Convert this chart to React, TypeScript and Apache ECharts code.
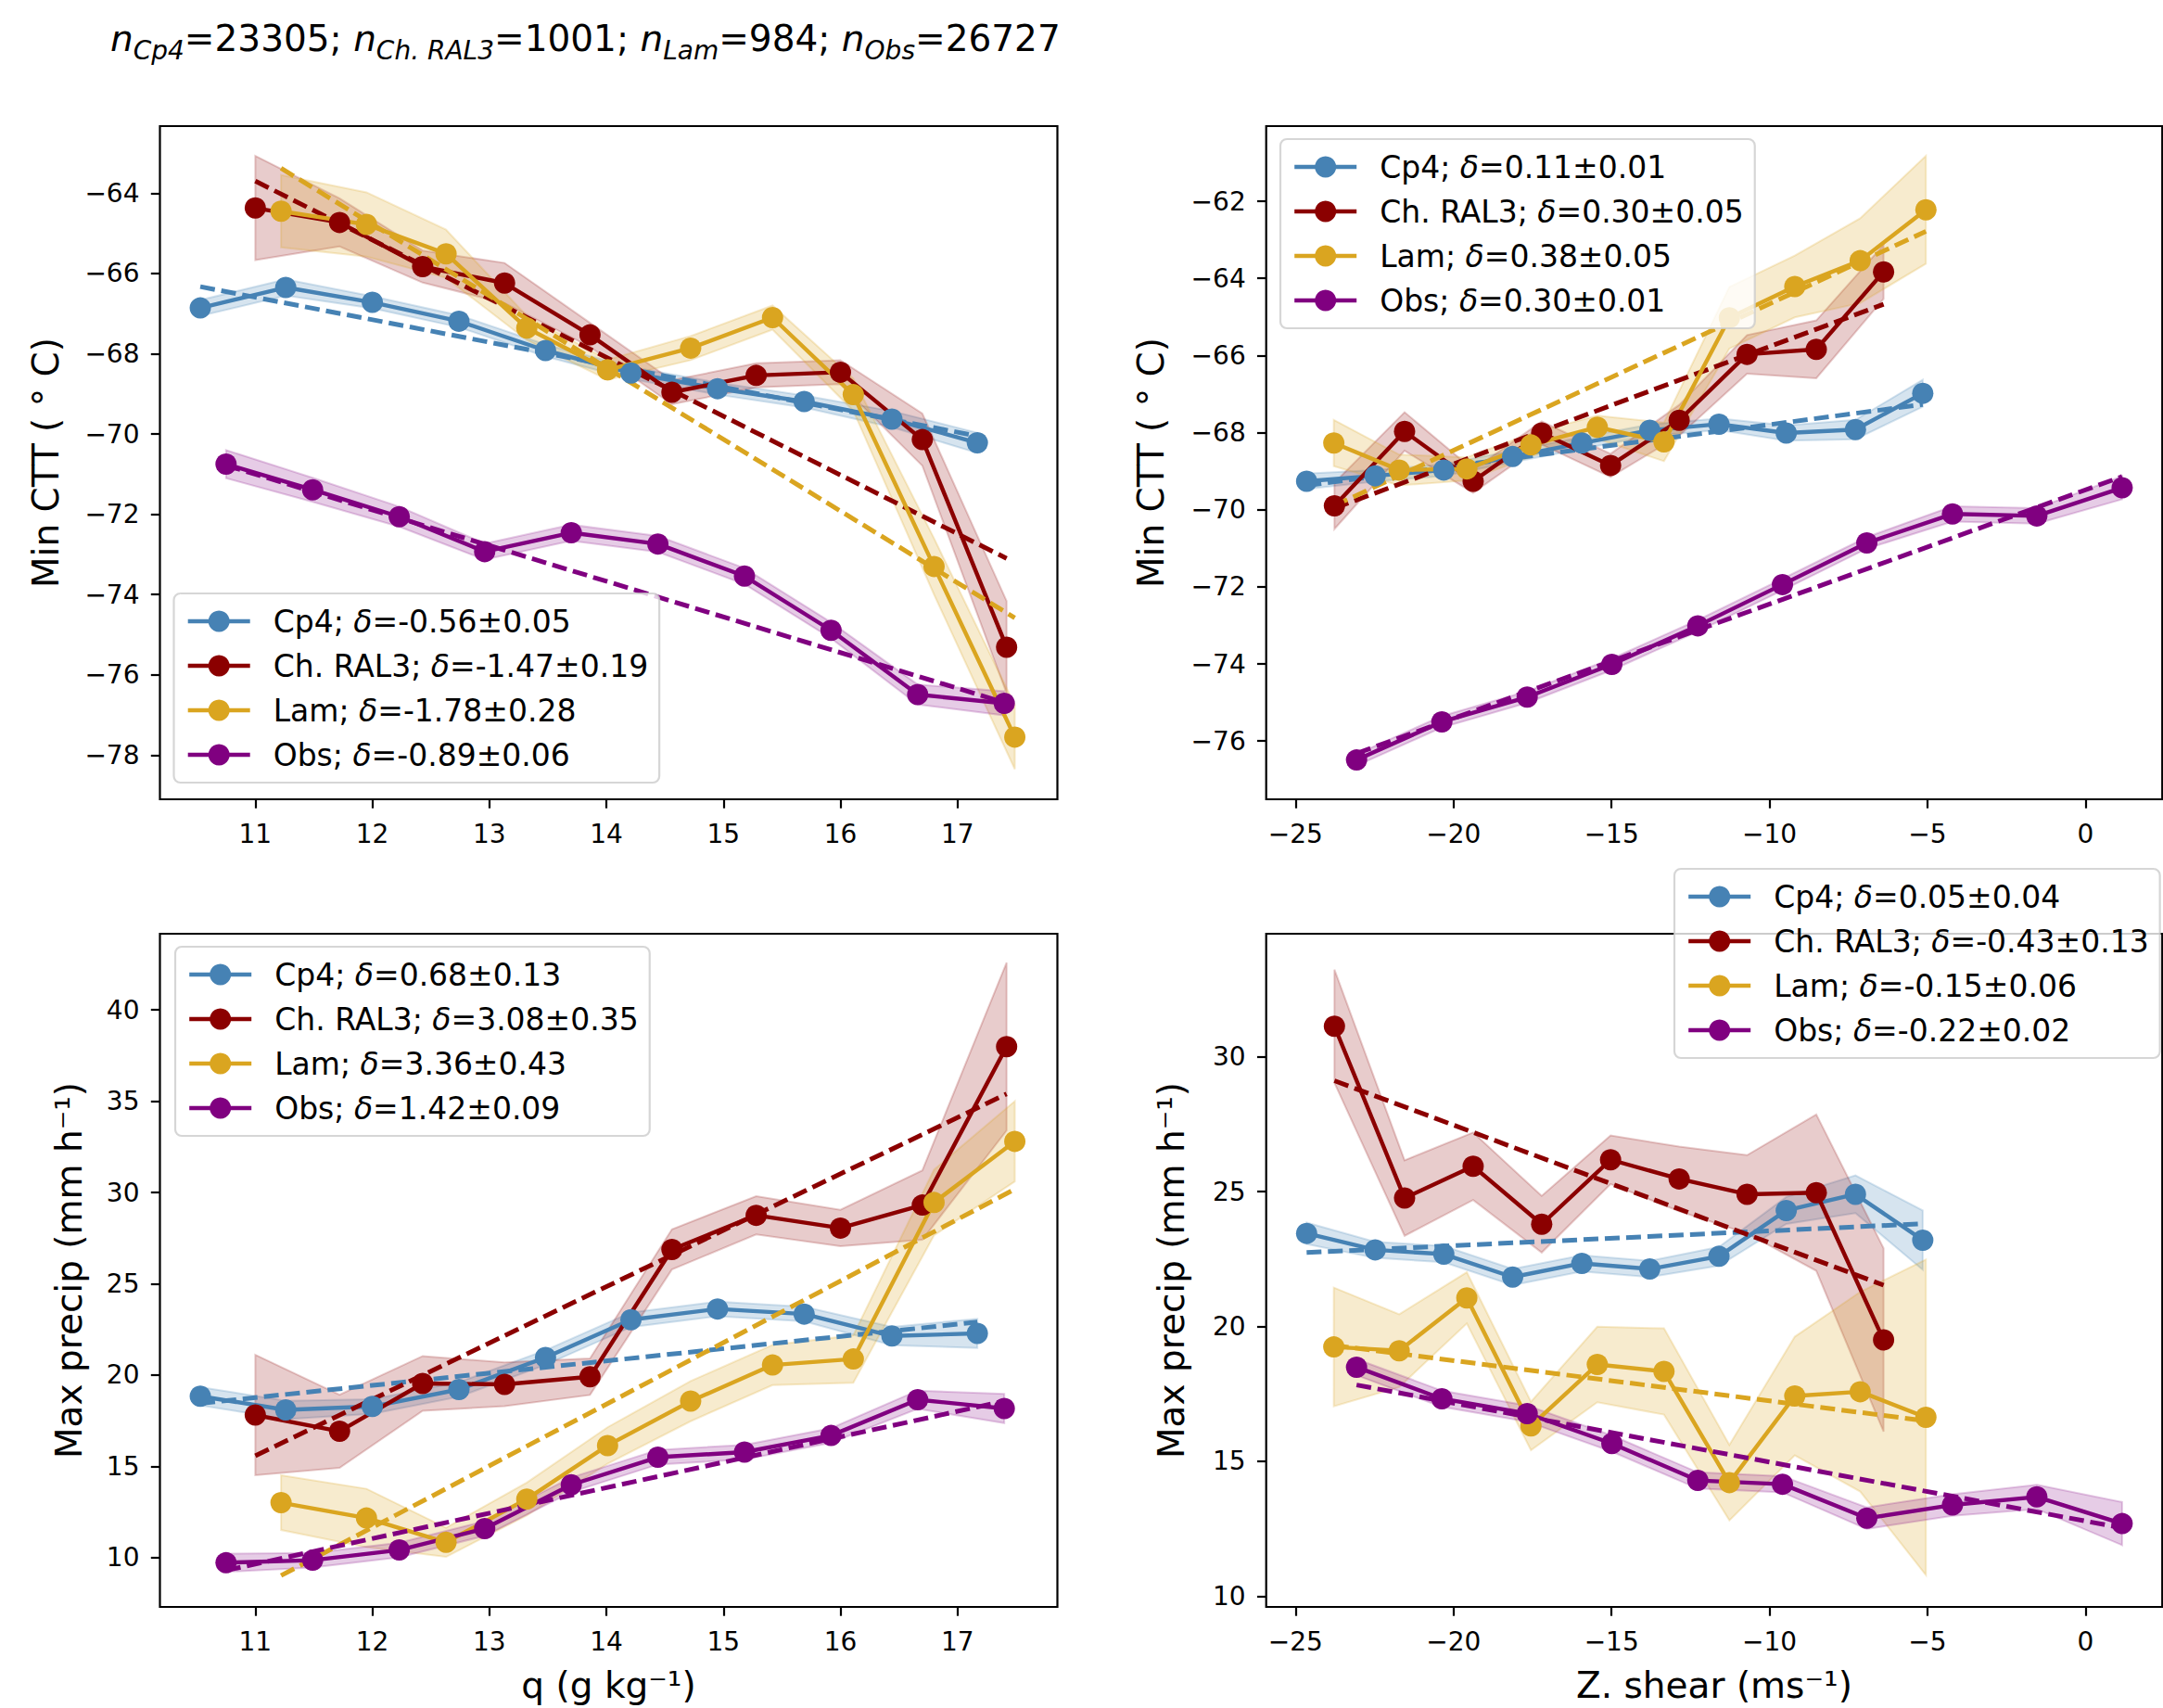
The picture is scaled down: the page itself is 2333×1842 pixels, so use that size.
import React, { useEffect, useRef } from 'react';
import * as echarts from 'echarts';

// ---------------- DATA ----------------
const models = ['Cp4', 'Ch. RAL3', 'Lam', 'Obs'];

// bin centres, humidity q (g/kg)
const qCp4 = [10.53, 11.26, 12.0, 12.74, 13.48, 14.21, 14.95, 15.69, 16.44, 17.17];
const qRal = [11.0, 11.72, 12.43, 13.13, 13.86, 14.56, 15.28, 16.0, 16.7, 17.42];
const qLam = [11.22, 11.95, 12.63, 13.32, 14.01, 14.72, 15.42, 16.11, 16.8, 17.49];
const qObs = [10.75, 11.49, 12.23, 12.96, 13.7, 14.44, 15.18, 15.92, 16.66, 17.4];

// bin centres, zonal shear (m/s)
const sCp4 = [-24.65, -22.48, -20.31, -18.13, -15.94, -13.79, -11.6, -9.47, -7.28, -5.15];
const sRal = [-23.77, -21.55, -19.38, -17.21, -15.03, -12.86, -10.71, -8.52, -6.39];
const sLam = [-23.79, -21.72, -19.58, -17.55, -15.45, -13.34, -11.27, -9.2, -7.13, -5.05];
const sObs = [-23.07, -20.37, -17.67, -14.99, -12.27, -9.59, -6.92, -4.21, -1.54, 1.16];

// Min CTT vs q
const cttQCp4 = [-66.86, -66.35, -66.72, -67.19, -67.92, -68.48, -68.87, -69.19, -69.63, -70.22];
const cttQRal = [-64.37, -64.73, -65.83, -66.24, -67.53, -68.96, -68.54, -68.46, -70.14, -75.31];
const cttQLam = [-64.45, -64.78, -65.51, -67.36, -68.4, -67.86, -67.1, -69.02, -73.3, -77.55];
const cttQObs = [-70.75, -71.39, -72.06, -72.93, -72.46, -72.74, -73.54, -74.89, -76.49, -76.71];
const cttQCp4Err = [0.2, 0.2, 0.15, 0.15, 0.15, 0.15, 0.15, 0.15, 0.2, 0.25];
const cttQRalErr = [1.3, 0.6, 0.4, 0.5, 0.3, 0.3, 0.3, 0.3, 0.65, 1.15];
const cttQLamErr = [0.9, 0.8, 0.6, 0.3, 0.25, 0.3, 0.3, 0.4, 0.7, 0.8];
const cttQObsErr = [0.35, 0.3, 0.25, 0.2, 0.2, 0.2, 0.2, 0.2, 0.25, 0.3];
const cttQCp4Trend = [-66.33, -70.05];
const cttQRalTrend = [-63.7, -73.1];
const cttQLamTrend = [-63.38, -74.58];
const cttQObsTrend = [-70.78, -76.69];

// Min CTT vs shear
const cttSCp4 = [-69.26, -69.12, -68.97, -68.62, -68.27, -67.94, -67.78, -68.01, -67.92, -66.98];
const cttSRal = [-69.9, -67.97, -69.26, -68.01, -68.85, -67.68, -65.97, -65.84, -63.83];
const cttSLam = [-68.27, -68.97, -68.94, -68.32, -67.86, -68.24, -65.02, -64.21, -63.54, -62.22];
const cttSObs = [-76.49, -75.5, -74.86, -74.01, -73.01, -71.94, -70.86, -70.11, -70.16, -69.43];
const cttSCp4Err = [0.2, 0.15, 0.15, 0.15, 0.15, 0.15, 0.15, 0.2, 0.25, 0.35];
const cttSRalErr = [0.6, 0.5, 0.3, 0.3, 0.3, 0.4, 0.5, 0.75, 0.7];
const cttSLamErr = [0.6, 0.4, 0.3, 0.3, 0.3, 0.5, 0.8, 0.8, 1.1, 1.4];
const cttSObsErr = [0.15, 0.15, 0.15, 0.15, 0.15, 0.15, 0.15, 0.2, 0.2, 0.3];
const cttSCp4Trend = [-69.37, -67.27];
const cttSRalTrend = [-69.96, -64.67];
const cttSLamTrend = [-69.9, -62.78];
const cttSObsTrend = [-76.32, -69.14];

// Max precip vs q
const prQCp4 = [18.84, 18.09, 18.28, 19.21, 20.96, 23.03, 23.62, 23.34, 22.14, 22.28];
const prQRal = [17.81, 16.92, 19.54, 19.49, 19.91, 26.88, 28.75, 28.05, 29.31, 37.99];
const prQLam = [13.01, 12.17, 10.84, 13.21, 16.14, 18.57, 20.55, 20.88, 29.45, 32.8];
const prQObs = [9.72, 9.86, 10.42, 11.59, 13.99, 15.5, 15.78, 16.69, 18.65, 18.17];
const prQCp4Err = [0.5, 0.5, 0.4, 0.4, 0.4, 0.4, 0.4, 0.4, 0.5, 0.8];
const prQRalErr = [3.3, 2.0, 1.5, 1.2, 1.0, 1.1, 1.05, 1.0, 1.9, 4.6];
const prQLamErr = [1.5, 1.6, 0.8, 0.9, 1.0, 1.1, 1.1, 1.3, 1.8, 2.2];
const prQObsErr = [0.5, 0.4, 0.4, 0.4, 0.4, 0.4, 0.4, 0.4, 0.5, 0.8];
const prQCp4Trend = [18.45, 22.9];
const prQRalTrend = [15.58, 35.4];
const prQLamTrend = [9.02, 30.18];
const prQObsTrend = [9.3, 18.57];

// Max precip vs shear
const prSCp4 = [23.45, 22.84, 22.68, 21.83, 22.34, 22.13, 22.6, 24.3, 24.9, 23.2];
const prSRal = [31.13, 24.76, 25.94, 23.79, 26.18, 25.47, 24.9, 24.96, 19.5];
const prSLam = [19.24, 19.1, 21.06, 16.31, 18.59, 18.33, 14.21, 17.42, 17.58, 16.63];
const prSObs = [18.49, 17.32, 16.77, 15.66, 14.29, 14.15, 12.89, 13.38, 13.68, 12.69];
const prSCp4Err = [0.4, 0.3, 0.3, 0.3, 0.3, 0.3, 0.35, 0.5, 0.7, 1.1];
const prSRalErr = [2.1, 1.4, 1.25, 1.05, 0.9, 1.2, 1.45, 2.9, 3.4];
const prSLamErr = [2.2, 1.35, 0.95, 0.9, 1.4, 1.6, 1.4, 2.2, 3.7, 5.85];
const prSObsErr = [0.3, 0.3, 0.3, 0.3, 0.3, 0.3, 0.4, 0.4, 0.45, 0.8];
const prSCp4Trend = [22.74, 23.81];
const prSRalTrend = [29.11, 21.53];
const prSLamTrend = [19.3, 16.5];
const prSObsTrend = [17.83, 12.53];

// legend labels (slopes)
const legendCttQ = ['Cp4; δ=-0.56±0.05', 'Ch. RAL3; δ=-1.47±0.19', 'Lam; δ=-1.78±0.28', 'Obs; δ=-0.89±0.06'];
const legendCttS = ['Cp4; δ=0.11±0.01', 'Ch. RAL3; δ=0.30±0.05', 'Lam; δ=0.38±0.05', 'Obs; δ=0.30±0.01'];
const legendPrQ = ['Cp4; δ=0.68±0.13', 'Ch. RAL3; δ=3.08±0.35', 'Lam; δ=3.36±0.43', 'Obs; δ=1.42±0.09'];
const legendPrS = ['Cp4; δ=0.05±0.04', 'Ch. RAL3; δ=-0.43±0.13', 'Lam; δ=-0.15±0.06', 'Obs; δ=-0.22±0.02'];

// tick labels
const qTicks = [11, 12, 13, 14, 15, 16, 17];
const shearTicks = [-25, -20, -15, -10, -5, 0];
const cttQTicks = [-78, -76, -74, -72, -70, -68, -66, -64];
const cttSTicks = [-76, -74, -72, -70, -68, -66, -64, -62];
const prQTicks = [10, 15, 20, 25, 30, 35, 40];
const prSTicks = [10, 15, 20, 25, 30];

const countsLabel = ['Cp4', '23305', 'Ch. RAL3', '1001', 'Lam', '984', 'Obs', '26727'];

// ---------------- STYLE ----------------
const FONT = 'DejaVu Sans';
const colors = ['#4682B4', '#8B0000', '#DAA520', '#800080'];
const bandFill = ['rgba(70,130,180,0.22)', 'rgba(139,0,0,0.2)', 'rgba(218,165,32,0.22)', 'rgba(128,0,128,0.2)'];
const LW = 4.4;
const MS = 23;

const panels = [
  {
    grid: { left: 172.5, top: 136, width: 968, height: 726 },
    x: [10.185, 17.854], y: [-79.1, -62.33], xTicks: qTicks, yTicks: cttQTicks,
    xs: [qCp4, qRal, qLam, qObs], ys: [cttQCp4, cttQRal, cttQLam, cttQObs],
    errs: [cttQCp4Err, cttQRalErr, cttQLamErr, cttQObsErr],
    trends: [cttQCp4Trend, cttQRalTrend, cttQLamTrend, cttQObsTrend],
    labels: legendCttQ, legend: { left: 187.5, top: 640 },
    yName: 'Min CTT ( ° C)', yNameGap: 104, xName: '',
  },
  {
    grid: { left: 1365.7, top: 136, width: 966.5, height: 726 },
    x: [-25.93, 2.43], y: [-77.51, -60.05], xTicks: shearTicks, yTicks: cttSTicks,
    xs: [sCp4, sRal, sLam, sObs], ys: [cttSCp4, cttSRal, cttSLam, cttSObs],
    errs: [cttSCp4Err, cttSRalErr, cttSLamErr, cttSObsErr],
    trends: [cttSCp4Trend, cttSRalTrend, cttSLamTrend, cttSObsTrend],
    labels: legendCttS, legend: { left: 1381, top: 150 },
    yName: 'Min CTT ( ° C)', yNameGap: 105, xName: '',
  },
  {
    grid: { left: 172.5, top: 1007, width: 968, height: 726 },
    x: [10.185, 17.854], y: [7.3, 44.17], xTicks: qTicks, yTicks: prQTicks,
    xs: [qCp4, qRal, qLam, qObs], ys: [prQCp4, prQRal, prQLam, prQObs],
    errs: [prQCp4Err, prQRalErr, prQLamErr, prQObsErr],
    trends: [prQCp4Trend, prQRalTrend, prQLamTrend, prQObsTrend],
    labels: legendPrQ, legend: { left: 189, top: 1021 },
    yName: 'Max precip (mm h⁻¹)', yNameGap: 79, xName: 'q (g kg⁻¹)',
  },
  {
    grid: { left: 1365.7, top: 1007, width: 966.5, height: 726 },
    x: [-25.93, 2.43], y: [9.6, 34.56], xTicks: shearTicks, yTicks: prSTicks,
    xs: [sCp4, sRal, sLam, sObs], ys: [prSCp4, prSRal, prSLam, prSObs],
    errs: [prSCp4Err, prSRalErr, prSLamErr, prSObsErr],
    trends: [prSCp4Trend, prSRalTrend, prSLamTrend, prSObsTrend],
    labels: legendPrS, legend: { left: 1806, top: 937 },
    yName: 'Max precip (mm h⁻¹)', yNameGap: 83, xName: 'Z. shear (ms⁻¹)',
  },
];

const minusFmt = (v: number) => String(v).replace('-', '\u2212');

function buildOption() {
  const grid: any[] = [];
  const xAxis: any[] = [];
  const yAxis: any[] = [];
  const series: any[] = [];
  const legend: any[] = [];

  panels.forEach((p, pi) => {
    grid.push({
      ...p.grid,
      show: true,
      borderColor: '#000',
      borderWidth: 2.2,
      backgroundColor: 'transparent',
      containLabel: false,
      outerBoundsMode: 'none',
    });
    const tick = { show: true, inside: false, length: 9.7, lineStyle: { color: '#000', width: 2.2 } };
    xAxis.push({
      type: 'value', gridIndex: pi, min: p.x[0], max: p.x[1],
      splitLine: { show: false }, axisLine: { show: false, onZero: false },
      axisTick: { ...tick, customValues: p.xTicks },
      axisLabel: { customValues: p.xTicks, color: '#000', fontSize: 28, fontFamily: FONT, margin: 23, formatter: minusFmt },
      name: p.xName, nameLocation: 'middle', nameGap: 65,
      nameTextStyle: { color: '#000', fontSize: 39, fontFamily: FONT },
    });
    yAxis.push({
      type: 'value', gridIndex: pi, min: p.y[0], max: p.y[1],
      splitLine: { show: false }, axisLine: { show: false, onZero: false },
      axisTick: { ...tick, customValues: p.yTicks },
      axisLabel: { customValues: p.yTicks, color: '#000', fontSize: 28, fontFamily: FONT, margin: 22, formatter: minusFmt },
      name: p.yName, nameLocation: 'middle', nameGap: p.yNameGap,
      nameTextStyle: { color: '#000', fontSize: 39, fontFamily: FONT },
    });

    models.forEach((m, mi) => {
      const xs = p.xs[mi];
      const ys = p.ys[mi];
      const er = p.errs[mi];
      const tr = p.trends[mi];
      // shaded band
      series.push({
        type: 'custom', name: `band-${pi}-${mi}`, xAxisIndex: pi, yAxisIndex: pi, silent: true,
        data: xs.map((x, i) => [x, ys[i] - er[i], ys[i] + er[i]]),
        encode: { x: 0, y: [1, 2] },
        renderItem: (params: any, api: any) => {
          if (params.dataIndex !== 0) return null;
          const top = xs.map((x, i) => api.coord([x, ys[i] + er[i]]));
          const bot = xs.map((x, i) => api.coord([x, ys[i] - er[i]])).reverse();
          return {
            type: 'polygon',
            shape: { points: top.concat(bot) },
            style: { fill: bandFill[mi], stroke: bandFill[mi], lineWidth: 2 },
          };
        },
      });
      // line + markers
      series.push({
        type: 'line', name: p.labels[mi], xAxisIndex: pi, yAxisIndex: pi,
        data: xs.map((x, i) => [x, ys[i]]),
        symbol: 'circle', symbolSize: MS, showSymbol: true,
        lineStyle: { color: colors[mi], width: LW },
        itemStyle: { color: colors[mi] },
        emphasis: { disabled: true },
      });
      // dashed linear fit
      series.push({
        type: 'line', name: `fit-${pi}-${mi}`, xAxisIndex: pi, yAxisIndex: pi, silent: true,
        data: [[xs[0], tr[0]], [xs[xs.length - 1], tr[1]]],
        symbol: 'none',
        lineStyle: { color: colors[mi], width: 5, type: [16, 7], cap: 'butt' },
        emphasis: { disabled: true },
      });
    });

    legend.push({
      data: p.labels,
      orient: 'vertical',
      left: p.legend.left, top: p.legend.top,
      padding: [12, 12, 12, 13],
      itemGap: 12, itemWidth: 67, itemHeight: MS / 0.8,
      selectedMode: false,
      lineStyle: { width: LW },
      backgroundColor: 'rgba(255,255,255,0.8)',
      borderColor: 'rgba(204,204,204,0.8)', borderWidth: 2.2, borderRadius: 7,
      formatter: (name: string) => {
        const [a, b] = name.split('δ');
        return `{n|${a}}{d|δ}{n|${b}}`;
      },
      textStyle: {
        color: '#000', fontSize: 33, fontFamily: FONT, lineHeight: 36, padding: [0, 0, 0, 20],
        rich: {
          n: { color: '#000', fontSize: 33, fontFamily: FONT, lineHeight: 36 },
          d: { color: '#000', fontSize: 33, fontFamily: FONT, fontStyle: 'italic', lineHeight: 36 },
        },
      },
    });
  });

  let subtitle = '';
  for (let i = 0; i < countsLabel.length; i += 2) {
    subtitle += `{i|n}{s|${countsLabel[i]}}{r|=${countsLabel[i + 1]}${i < countsLabel.length - 2 ? '; ' : ''}}`;
  }

  return {
    animation: false,
    backgroundColor: '#fff',
    grid, xAxis, yAxis, series, legend,
    graphic: [
      {
        type: 'text', left: 119, top: 22, silent: true,
        style: {
          text: subtitle,
          fill: '#000',
          fontFamily: FONT,
          fontSize: 39,
          rich: {
            i: { fontFamily: FONT, fontSize: 39, fontStyle: 'italic', lineHeight: 50, fill: '#000' },
            r: { fontFamily: FONT, fontSize: 39, lineHeight: 50, fill: '#000' },
            s: { fontFamily: FONT, fontSize: 28, fontStyle: 'italic', padding: [26, 0, 0, 0], fill: '#000' },
          },
        },
      },
    ],
  };
}

export default function App() {
  const ref = useRef<HTMLDivElement>(null);
  useEffect(() => {
    const chart = echarts.init(ref.current as HTMLDivElement, null, { renderer: 'svg' });
    chart.setOption(buildOption() as any);
    return () => chart.dispose();
  }, []);
  return (
    <div
      ref={ref}
      style={{ position: 'absolute', left: 0, top: 0, width: 2333, height: 1842, background: '#fff' }}
    />
  );
}
